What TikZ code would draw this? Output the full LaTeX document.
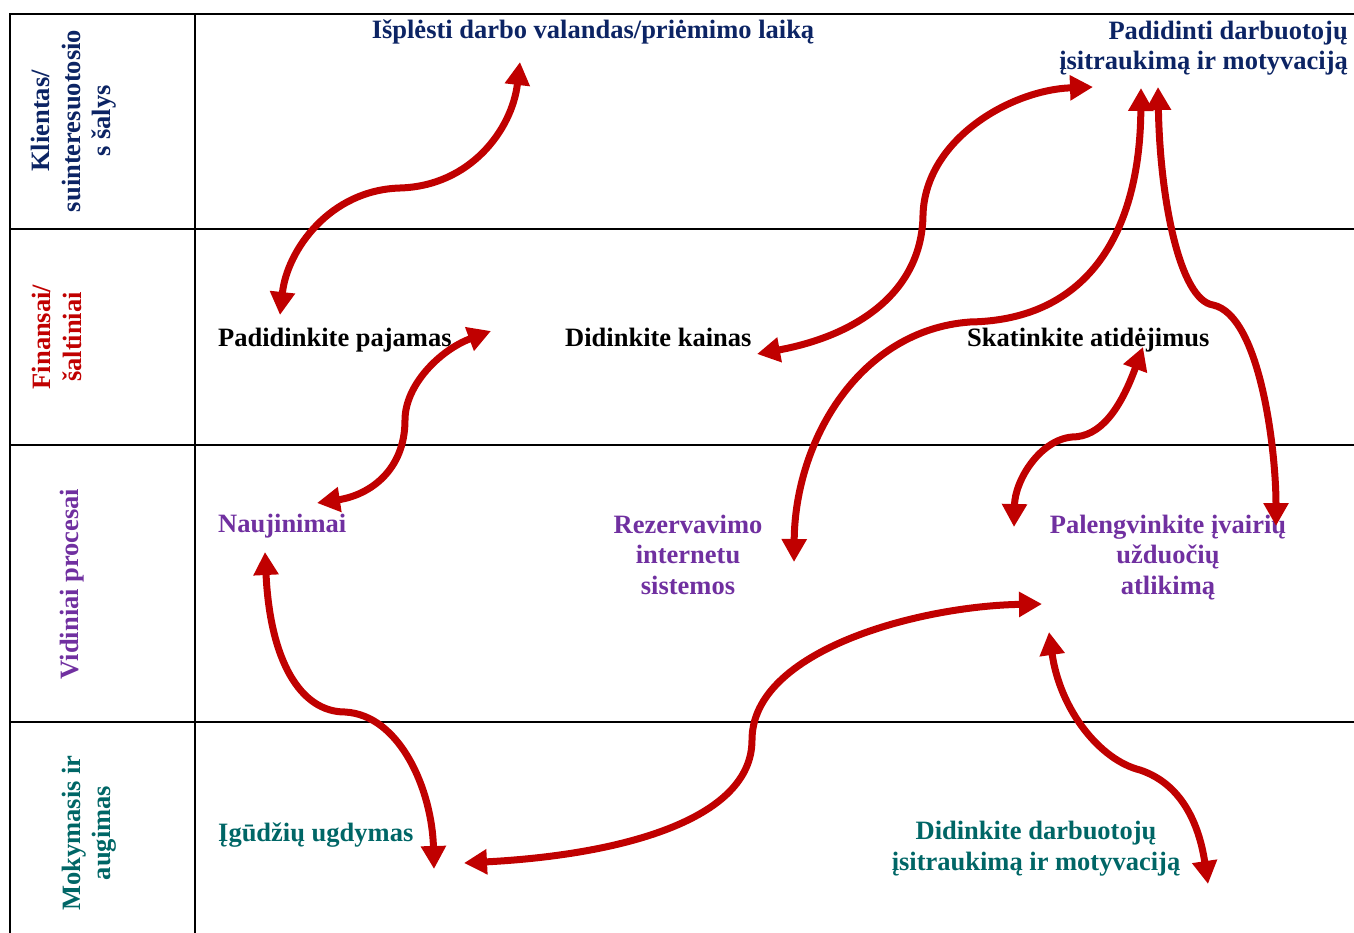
\documentclass[tikz,border=0pt]{standalone}
\usepackage{fontspec}
\setmainfont{Liberation Serif}
\usetikzlibrary{arrows.meta}
\definecolor{navy}{RGB}{12,36,100}
\definecolor{dred}{RGB}{192,0,0}
\definecolor{purp}{RGB}{112,48,160}
\definecolor{teal}{RGB}{0,102,102}
\newcommand\tf{\fontsize{26.5}{30.5}\selectfont\bfseries}
\tikzset{
  grid/.style={line width=2pt, black},
  lbl/.style={font=\tf, inner sep=0pt, align=center},
  sidelbl/.style={font=\tf, inner sep=0pt, align=center, rotate=90},
  link/.style={line width=7pt, dred, {Triangle[length=23pt,width=24pt]}-{Triangle[length=23pt,width=24pt]}}
}
\begin{document}
\begin{tikzpicture}[x=1pt,y=-1pt]
\useasboundingbox (0,0) rectangle (1354,933);
% grid
\draw[grid] (10,933) -- (10,14) -- (1354,14);
\draw[grid] (195,14) -- (195,933);
\draw[grid] (10,229) -- (1354,229);
\draw[grid] (10,445) -- (1354,445);
\draw[grid] (10,722) -- (1354,722);
% side labels
\node[sidelbl, text=navy] (rowA) at (74,121) {Klientas/\\suinteresuotosio\\s šalys};
\node[sidelbl, text=dred] (rowB) at (57,337) {Finansai/\\šaltiniai};
\node[sidelbl, text=purp] (rowC) at (72,584) {Vidiniai procesai};
\node[sidelbl, text=teal] (rowD) at (89,833) {Mokymasis ir\\augimas};
% texts
\node[lbl, text=navy, anchor=base] (isp) at (593,39) {Išplėsti darbo valandas/priėmimo laiką};
\node[lbl, text=navy, align=right, anchor=base east] (pad) at (1348,70) {Padidinti darbuotojų\\įsitraukimą ir motyvaciją};
\node[lbl, text=black, anchor=base west] (paj) at (218,346) {Padidinkite pajamas};
\node[lbl, text=black, anchor=base west] (kai) at (565,346) {Didinkite kainas};
\node[lbl, text=black, anchor=base west] (ska) at (967,346) {Skatinkite atidėjimus};
\node[lbl, text=purp, anchor=base west] (nau) at (218,532) {Naujinimai};
\node[lbl, text=purp, anchor=base] (rez) at (688,594) {Rezervavimo\\internetu\\sistemos};
\node[lbl, text=purp, anchor=base] (pal) at (1168,594) {Palengvinkite įvairių\\užduočių\\atlikimą};
\node[lbl, text=teal, anchor=base west] (igu) at (218,841) {Įgūdžių ugdymas};
\node[lbl, text=teal, anchor=base] (did) at (1036,870) {Didinkite darbuotojų\\įsitraukimą ir motyvaciją};
% arrow end points
\coordinate (a1s) at (520,62);  \coordinate (a1e) at (280,315);
\coordinate (a2s) at (491,331); \coordinate (a2e) at (317,503);
\coordinate (a3s) at (757,354); \coordinate (a3e) at (1093,87);
\coordinate (a4s) at (1141,88); \coordinate (a4e) at (794,562);
\coordinate (a5s) at (1158,87); \coordinate (a5e) at (1276,526);
\coordinate (a6s) at (1143,347);\coordinate (a6e) at (1014,527);
\coordinate (a7s) at (265,552); \coordinate (a7e) at (434,869);
\coordinate (a8s) at (464,863); \coordinate (a8e) at (1042,604);
\coordinate (a9s) at (1049,632);\coordinate (a9e) at (1208,884);
% connectors
\draw[link] (a1s) .. controls (512,130) and (470,186) .. (400,188) .. controls (330,190) and (287,250) .. (a1e);
\draw[link] (a2s) .. controls (440,350) and (405,385) .. (405,420) .. controls (405,470) and (370,495) .. (a2e);
\draw[link] (a3s) .. controls (860,335) and (922,290) .. (923,215) .. controls (925,140) and (1010,90) .. (a3e);
\draw[link] (a4s) .. controls (1140,230) and (1090,320) .. (970,322) .. controls (860,330) and (795,440) .. (a4e);
\draw[link] (a5s) .. controls (1160,200) and (1180,300) .. (1213,305) .. controls (1260,315) and (1276,450) .. (a5e);
\draw[link] (a6s) .. controls (1120,410) and (1100,437) .. (1072,437) .. controls (1040,440) and (1015,480) .. (a6e);
\draw[link] (a7s) .. controls (270,660) and (300,712) .. (345,712) .. controls (400,715) and (432,790) .. (a7e);
\draw[link] (a8s) .. controls (620,855) and (752,820) .. (752,740) .. controls (752,650) and (920,606) .. (a8e);
\draw[link] (a9s) .. controls (1060,710) and (1100,760) .. (1140,770) .. controls (1185,785) and (1200,830) .. (a9e);
\end{tikzpicture}
\end{document}
